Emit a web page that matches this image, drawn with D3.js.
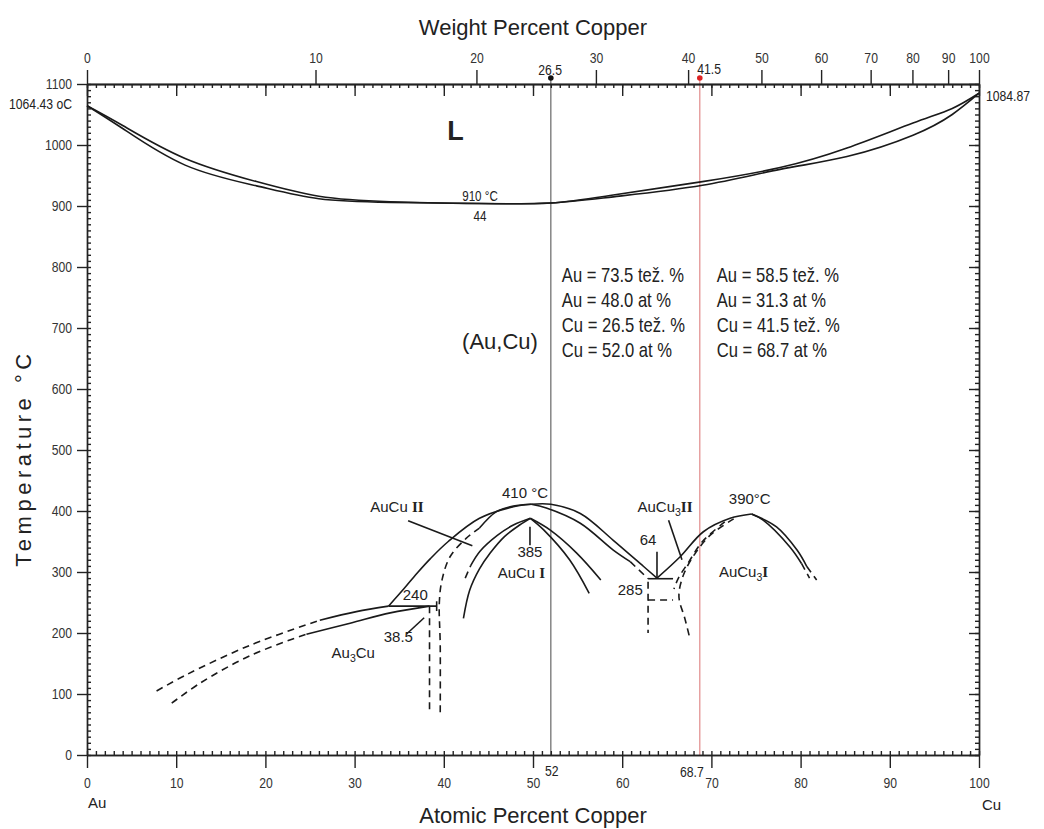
<!DOCTYPE html>
<html>
<head>
<meta charset="utf-8">
<script src="https://cdn.jsdelivr.net/npm/d3@7"></script>
<style>
  body { margin: 0; background: #fff; }
  svg { display: block; }
  .axis path, .axis line { stroke: #222; stroke-width: 1.4; }
  .axis text { font-family: 'Liberation Sans', Arial, sans-serif; font-size: 14px; fill: #333; }
  .phase { fill: none; stroke: #1a1a1a; stroke-width: 1.6; }
  .dashed { stroke-dasharray: 7,5; }
  .lab { font-family: 'Liberation Sans', Arial, sans-serif; font-size: 15px; fill: #222; }
  .narrow { font-family: 'Liberation Sans', Arial, sans-serif; fill: #222; }
  .title { font-family: 'Liberation Sans', Arial, sans-serif; font-size: 22px; fill: #222; }
</style>
</head>
<body>
<div id="chart"></div>
<script>
'use strict';

// Axis tick values
var atTicks = d3.range(0, 101, 10);
var wtTicks = [0, 10, 20, 30, 40, 50, 60, 70, 80, 90, 100];
var tempTicks = d3.range(0, 1101, 100);

// Liquidus / solidus  [at% Cu, T degC]
var liquidus = [[0, 1064.43], [4, 1032], [11, 978], [19, 940], [26, 916], [34, 907], [44, 904],
  [52, 905], [59, 918], [69, 940], [77.7, 963], [85.2, 995], [92.6, 1036], [97, 1060], [100, 1084.87]];
var solidus = [[0, 1064.43], [4, 1027], [11, 967], [19, 933], [26, 912], [34, 906], [44, 904],
  [52, 905], [59, 915], [69, 934], [77.7, 960], [85.2, 981], [92.6, 1016], [97, 1050], [100, 1084.87]];

// Au3Cu
var au3cuUpperDash = [[7.8, 105], [11.2, 132], [18.3, 180], [26.1, 221]];
var au3cuUpper = [[26.1, 221], [30.2, 235], [33.8, 244]];
var au3cuLowerDash = [[9.5, 85], [12.7, 118], [18.3, 163], [24.6, 198]];
var au3cuLower = [[24.6, 198], [29.5, 216], [34, 233], [38.4, 244]];
var line240 = [[33.8, 244], [39.2, 244]];
var tick240 = [[39.2, 236], [39.2, 252]];
var vert385Dash = [[38.4, 244], [38.4, 70]];

// AuCu domes
var aucuL1 = [[33.8, 244], [35.5, 272], [37, 298], [38.5, 322], [40.5, 350], [44, 388], [47.8, 407], [49.8, 411]];
var aucuL2Dash = [[39.6, 70], [39.6, 180], [39.5, 250], [39.8, 287], [40.7, 325], [42.5, 355], [44, 372]];
var aucuL2 = [[44, 372], [45.9, 399], [47.8, 408], [49.8, 411]];
var aucuL3Dash = [[42.4, 290], [43, 310]];
var aucuL3 = [[43, 310], [44.06, 334], [46, 360], [47.8, 377], [49.7, 388]];
var aucuL4 = [[42.2, 224], [42.9, 270], [44, 305], [45.2, 331], [46.8, 358], [48.5, 377], [49.7, 388]];
var aucuA = [[49.8, 411], [52, 411], [55.3, 396], [59, 352], [62.4, 309], [63.9, 290]];
var aucuA2 = [[49.8, 411], [51.5, 405], [55.3, 380], [59, 336], [60.9, 317]];
var aucuA2Dash = [[60.9, 317], [62.9, 289]];
var aucuB = [[49.7, 388], [51.9, 369], [54.9, 331], [57.6, 287]];
var aucuC = [[49.7, 388], [51.2, 369], [54.1, 320], [56.3, 265]];

// AuCu3
var line285 = [[62.9, 289], [65.7, 289]];
var vert285Dash = [[62.9, 284], [62.9, 200]];
var horiz254Dash = [[62.9, 254], [65.7, 254]];
var aucu3Left = [[63.9, 290], [66.5, 325], [69.1, 366], [72.1, 388], [74.5, 395]];
var aucu3Right = [[74.5, 395], [77.3, 374], [79.6, 336], [80.7, 309]];
var aucu3RightDash = [[80.7, 309], [81.8, 287]];
var aucu3Inner = [[74.5, 395], [75.8, 385], [78.8, 341], [80.1, 314]];
var aucu3InnerDash = [[80.1, 314], [81, 290]];
var aucu3D1 = [[72.5, 387], [70, 362], [68.3, 333], [67, 300], [66.4, 270], [66.4, 254], [67, 225], [67.6, 190]];
var aucu3D2 = [[71.5, 382], [69, 350], [67.4, 315], [66.3, 290], [65.8, 272]];

// Leader lines
var leaders = [
  [[36.0, 384], [43.2, 343]],
  [[35.8, 198], [37.8, 225]],
  [[49.66, 374], [49.66, 344]],
  [[63.9, 333], [63.9, 292]],
  [[65.2, 385], [66.7, 320]]
];

// Labels: text, at%, T   ("_3" subscript, "|II" roman numeral)
var labelText = ['410 °C', '385', 'AuCu |I', 'AuCu |II', '240', '38.5', 'Au_3Cu', '64', '285', 'AuCu_3|II', '390°C', 'AuCu_3|I'];
var labelAt   = [49.1, 49.66, 48.7, 34.75, 36.8, 34.9, 29.85, 62.9, 60.9, 64.8, 74.3, 73.6];
var labelT    = [429.5, 333, 298, 406.6, 262, 193.4, 167, 352.5, 270.5, 406.6, 419.7, 300];

// Composition markers
var markerAt = [52, 68.7];
var markerWt = [26.5, 41.5];
var block1 = ['Au = 73.5 tež. %', 'Au = 48.0 at %', 'Cu = 26.5 tež. %', 'Cu = 52.0 at %'];
var block2 = ['Au = 58.5 tež. %', 'Au = 31.3 at %', 'Cu = 41.5 tež. %', 'Cu = 68.7 at %'];

var NARROW = 0.83;
var TICK_NARROW = 0.87;

function wtToAt(w) {
  var cu = w / 63.546, au = (100 - w) / 196.967;
  return 100 * cu / (cu + au);
}

var svgWidth = 1044, svgHeight = 829;
var x = d3.scaleLinear().domain([0, 100]).range([87, 979]);
var y = d3.scaleLinear().domain([0, 1100]).range([755, 84]);
var xw = d3.scaleLinear().domain(wtTicks).range(wtTicks.map(function(w) { return x(wtToAt(w)); }));

var svg = d3.select('#chart').append('svg')
    .attr('width', svgWidth)
    .attr('height', svgHeight);
svg.append('rect').attr('width', svgWidth).attr('height', svgHeight).attr('fill', '#fff');

// condensed text helper
function narrowText(px, py, str, size, anchor, k) {
  return svg.append('text').attr('class', 'narrow')
      .attr('font-size', size)
      .attr('text-anchor', anchor || 'start')
      .attr('transform', 'translate(' + px + ',' + py + ') scale(' + (k || NARROW) + ',1)')
      .text(str);
}
function narrowAxis(g) {
  g.selectAll('text').each(function() {
    var t = d3.select(this);
    var x0 = +t.attr('x') || 0;
    t.attr('x', x0 / TICK_NARROW).attr('transform', 'scale(' + TICK_NARROW + ',1)');
  });
}

// Vertical composition lines
var lineColor = ['#666', '#e08a8a'];
var dotColor = ['#111', '#d22'];
markerAt.forEach(function(a, i) {
  svg.append('line')
      .attr('x1', x(a)).attr('x2', x(a))
      .attr('y1', y(1100) - 6).attr('y2', y(0))
      .attr('stroke', lineColor[i]).attr('stroke-width', 1.2);
});

// Axes
function axisStyle(g) { g.attr('class', 'axis'); }
var fmt = d3.format('d');

svg.append('g').call(axisStyle)
    .attr('transform', 'translate(0,' + y(0) + ')')
    .call(d3.axisBottom(x).tickValues(atTicks).tickFormat(fmt).tickSize(13).tickPadding(10).tickSizeOuter(0))
    .call(narrowAxis);
svg.append('g').call(axisStyle)
    .attr('transform', 'translate(0,' + y(0) + ')')
    .call(d3.axisTop(x).tickValues(d3.range(0, 101, 1)).tickSize(4).tickFormat('').tickSizeOuter(0));

svg.append('g').call(axisStyle)
    .attr('transform', 'translate(0,' + y(1100) + ')')
    .call(d3.axisBottom(x).tickValues(atTicks).tickSize(12).tickFormat('').tickSizeOuter(0));
svg.append('g').call(axisStyle)
    .attr('transform', 'translate(0,' + y(1100) + ')')
    .call(d3.axisBottom(x).tickValues(d3.range(0, 101, 1)).tickSize(4).tickFormat('').tickSizeOuter(0));
svg.append('g').call(axisStyle)
    .attr('transform', 'translate(0,' + y(1100) + ')')
    .call(d3.axisTop(xw).tickValues(wtTicks).tickFormat(fmt).tickSize(14).tickPadding(7).tickSizeOuter(0))
    .call(narrowAxis);

svg.append('g').call(axisStyle)
    .attr('transform', 'translate(' + x(0) + ',0)')
    .call(d3.axisLeft(y).tickValues(tempTicks).tickFormat(fmt).tickSize(10).tickPadding(5).tickSizeOuter(0))
    .call(narrowAxis);
svg.append('g').call(axisStyle)
    .attr('transform', 'translate(' + x(0) + ',0)')
    .call(d3.axisRight(y).tickValues(d3.range(0, 1101, 10)).tickSize(4).tickFormat('').tickSizeOuter(0));
svg.append('g').call(axisStyle)
    .attr('transform', 'translate(' + x(100) + ',0)')
    .call(d3.axisLeft(y).tickValues(tempTicks).tickSize(10).tickFormat('').tickSizeOuter(0));
svg.append('g').call(axisStyle)
    .attr('transform', 'translate(' + x(100) + ',0)')
    .call(d3.axisLeft(y).tickValues(d3.range(0, 1101, 10)).tickSize(4).tickFormat('').tickSizeOuter(0));

// Marker dots and labels
markerAt.forEach(function(a, i) {
  svg.append('circle').attr('cx', x(a)).attr('cy', y(1100) - 6).attr('r', 2.8).attr('fill', dotColor[i]);
});
narrowText(xw(markerWt[0]) - 4, 75, markerWt[0], 14, 'middle', TICK_NARROW);
narrowText(xw(markerWt[1]) + 10, 74, markerWt[1], 14, 'middle', TICK_NARROW);
narrowText(x(markerAt[0]) + 1, 776, markerAt[0], 14, 'middle', TICK_NARROW);
narrowText(x(markerAt[1]) - 8, 777, markerAt[1], 14, 'middle', TICK_NARROW);

// End labels
narrowText(x(0) - 15, y(1064.43) + 3, '1064.43 oC', 14, 'end', TICK_NARROW);
narrowText(x(100) + 7, y(1084.87) + 8, '1084.87', 14, 'start', TICK_NARROW);
svg.append('text').attr('class', 'lab').attr('font-size', 16)
    .attr('x', x(0) + 1).attr('y', 808).text('Au');
svg.append('text').attr('class', 'lab').attr('font-size', 16)
    .attr('x', x(100) + 3).attr('y', 810).text('Cu');

// Titles
svg.append('text').attr('class', 'title').attr('x', 533).attr('y', 35).attr('text-anchor', 'middle').text('Weight Percent Copper');
svg.append('text').attr('class', 'title').attr('x', 533).attr('y', 823).attr('text-anchor', 'middle').text('Atomic Percent Copper');
svg.append('text').attr('class', 'title').attr('font-size', 20).attr('letter-spacing', 4.5)
    .attr('transform', 'translate(31,458) rotate(-90)').attr('text-anchor', 'middle').text('Temperature °C');

// Phase lines
var liqLine = d3.line().x(function(d) { return x(d[0]); }).y(function(d) { return y(d[1]); }).curve(d3.curveNatural);
var phaseLine = d3.line().x(function(d) { return x(d[0]); }).y(function(d) { return y(d[1]); }).curve(d3.curveCatmullRom.alpha(0.5));

[liquidus, solidus].forEach(function(d) {
  svg.append('path').datum(d).attr('class', 'phase').attr('d', liqLine);
});

var solid = [au3cuUpper, au3cuLower, line240, tick240, aucuL1, aucuL2, aucuL3, aucuL4, aucuA, aucuA2, aucuB, aucuC,
  line285, aucu3Left, aucu3Right, aucu3Inner];
var dashed = [au3cuUpperDash, au3cuLowerDash, vert385Dash, aucuL2Dash, aucuL3Dash, aucuA2Dash, vert285Dash,
  horiz254Dash, aucu3RightDash, aucu3InnerDash, aucu3D1, aucu3D2];

solid.forEach(function(d) {
  svg.append('path').datum(d).attr('class', 'phase').attr('d', phaseLine);
});
dashed.forEach(function(d) {
  svg.append('path').datum(d).attr('class', 'phase dashed').attr('d', phaseLine);
});
leaders.forEach(function(d) {
  svg.append('path').datum(d).attr('class', 'phase').attr('stroke-width', 1.3).attr('d', phaseLine);
});

// Rich labels
function richText(sel, str) {
  var parts = str.split(/(_\d|\|[IV]+)/).filter(function(p) { return p.length; });
  var shift = 0;
  parts.forEach(function(p) {
    var t = sel.append('tspan');
    if (p[0] === '_') {
      t.text(p.slice(1)).attr('font-size', '70%').attr('dy', 4);
      shift = -4;
    } else if (p[0] === '|') {
      t.text(p.slice(1)).attr('font-family', "'Liberation Serif', 'Times New Roman', serif").attr('font-weight', 'bold');
      if (shift) { t.attr('dy', shift); shift = 0; }
    } else {
      t.text(p);
      if (shift) { t.attr('dy', shift); shift = 0; }
    }
  });
}

labelText.forEach(function(s, i) {
  var t = svg.append('text').attr('class', 'lab')
      .attr('x', x(labelAt[i])).attr('y', y(labelT[i]) + 5)
      .attr('text-anchor', 'middle');
  richText(t, s);
});

// Liquid region labels
svg.append('text').attr('font-family', "'Liberation Sans', Arial, sans-serif").attr('font-weight', 'bold')
    .attr('font-size', 27).attr('fill', '#222')
    .attr('x', x(41.3)).attr('y', y(1025) + 10).attr('text-anchor', 'middle').text('L');
narrowText(x(44.06), y(908), '910 °C', 14, 'middle');
narrowText(x(44.06), y(875), '44', 14, 'middle');
svg.append('text').attr('font-family', "'Liberation Sans', Arial, sans-serif").attr('font-size', 22).attr('fill', '#222')
    .attr('x', 500).attr('y', 349).attr('text-anchor', 'middle').text('(Au,Cu)');

// Composition text blocks
[block1, block2].forEach(function(block, b) {
  block.forEach(function(line, i) {
    narrowText(x(markerAt[b]) + (b === 0 ? 11 : 17), 282 + i * 25, line, 20, 'start');
  });
});
</script>
</body>
</html>
